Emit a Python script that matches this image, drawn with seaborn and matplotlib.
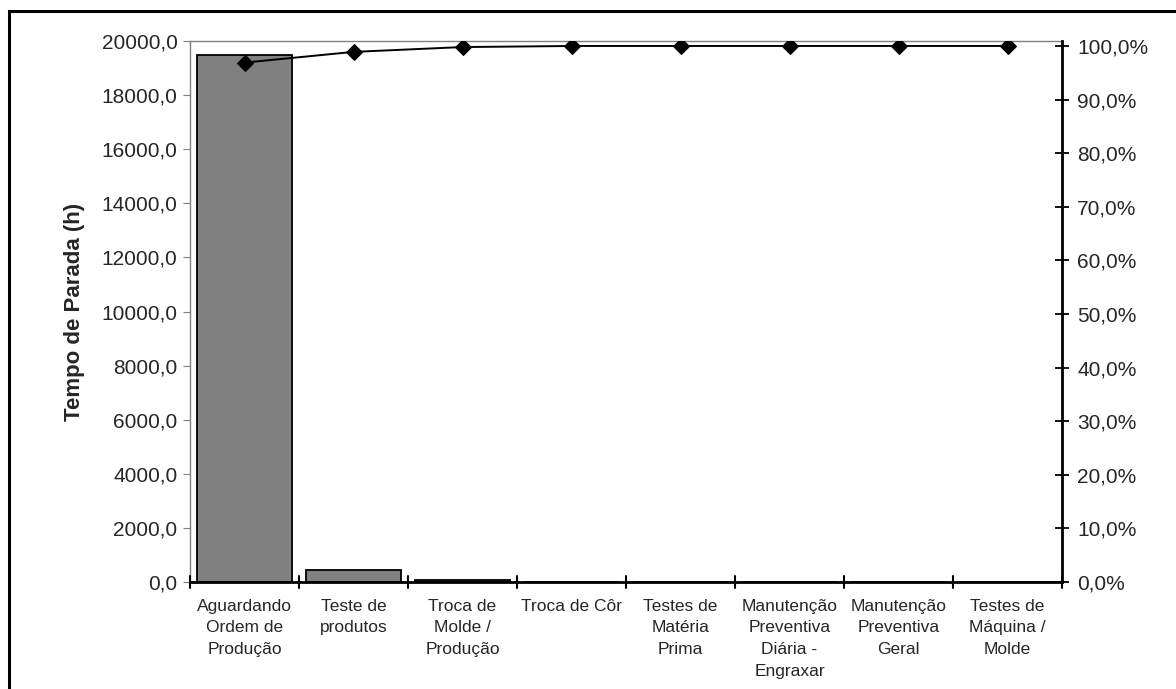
import matplotlib
matplotlib.use("Agg")
import matplotlib.pyplot as plt
from matplotlib.ticker import FuncFormatter, FixedLocator
from matplotlib.patches import Rectangle
import numpy as np
import pandas as pd
import seaborn as sns

# Stop causes (Pareto)
categories = [
    "Aguardando\nOrdem de\nProdução",
    "Teste de\nprodutos",
    "Troca de\nMolde /\nProdução",
    "Troca de Côr",
    "Testes de\nMatéria\nPrima",
    "Manutenção\nPreventiva\nDiária -\nEngraxar",
    "Manutenção\nPreventiva\nGeral",
    "Testes de\nMáquina /\nMolde",
]
hours = [19480, 450, 60, 15, 10, 8, 5, 2]
cumulative_pct = [96.9, 98.9, 99.8, 100.0, 100.0, 100.0, 100.0, 100.0]

sns.set_theme(style="white")
plt.rcParams["font.family"] = ["Liberation Sans", "DejaVu Sans"]

fig = plt.figure(figsize=(11.76, 6.89), dpi=100)
ax = fig.add_axes([190 / 1176, 1 - 582 / 689, (1062 - 190) / 1176, (582 - 41) / 689])

df = pd.DataFrame({"causa": categories, "horas": hours})
sns.barplot(data=df, x="causa", y="horas", ax=ax, color="#808080",
            saturation=1, width=0.87, edgecolor="black", linewidth=1.3)
ax.set_xlim(-0.5, len(categories) - 0.5)
ax.set_ylim(0, 20000)
ax.set_xlabel("")
ax.set_ylabel("Tempo de Parada (h)", fontsize=16, fontweight="bold", labelpad=12)
ax.yaxis.set_major_locator(FixedLocator(np.arange(0, 20001, 2000)))
ax.yaxis.set_major_formatter(FuncFormatter(lambda v, p: f"{v:.1f}".replace(".", ",")))
ax.tick_params(axis="y", labelsize=15, length=5, width=0.8, color="#808080",
               direction="out", left=True, pad=4)
ax.set_xticks(np.arange(len(categories)))
ax.set_xticklabels(categories, fontsize=12.5, linespacing=1.56)
ax.tick_params(axis="x", length=0, pad=12)
# category separator ticks crossing the baseline
for b in np.arange(-0.5, len(categories) + 0.5, 1):
    ax.plot([b, b], [-0.012, 0.012], transform=ax.get_xaxis_transform(),
            color="black", lw=1.5, clip_on=False, zorder=5)

for side in ["top", "left"]:
    ax.spines[side].set_color("#808080")
    ax.spines[side].set_linewidth(1.0)
ax.spines["bottom"].set_color("black")
ax.spines["bottom"].set_linewidth(2.0)
ax.spines["right"].set_visible(False)
ax.grid(False)

ax2 = ax.twinx()
sns.lineplot(x=np.arange(len(categories)), y=np.array(cumulative_pct) / 100.0, ax=ax2,
             color="black", lw=1.4, marker="D", markersize=8,
             markerfacecolor="black", markeredgecolor="black")
ax2.set_xlim(-0.5, len(categories) - 0.5)
ax2.set_ylim(0, 1.0093)
ax2.set_ylabel("")
ax2.yaxis.set_major_locator(FixedLocator(np.arange(0, 1.0001, 0.1)))
ax2.yaxis.set_major_formatter(FuncFormatter(lambda v, p: f"{v*100:.1f}%".replace(".", ",")))
ax2.tick_params(axis="y", labelsize=15, length=10, width=1.3, color="black",
                direction="inout", right=True, pad=6)
for side in ["top", "left", "bottom"]:
    ax2.spines[side].set_visible(False)
ax2.spines["right"].set_color("black")
ax2.spines["right"].set_linewidth(2.0)
ax2.grid(False)

# outer chart frame
fig.patches.append(Rectangle((9 / 1176, -0.1), 1.2, 1 - 11 / 689 + 0.1,
                             transform=fig.transFigure, fill=False,
                             edgecolor="black", linewidth=2.2))

fig.savefig("out.png", dpi=100)
